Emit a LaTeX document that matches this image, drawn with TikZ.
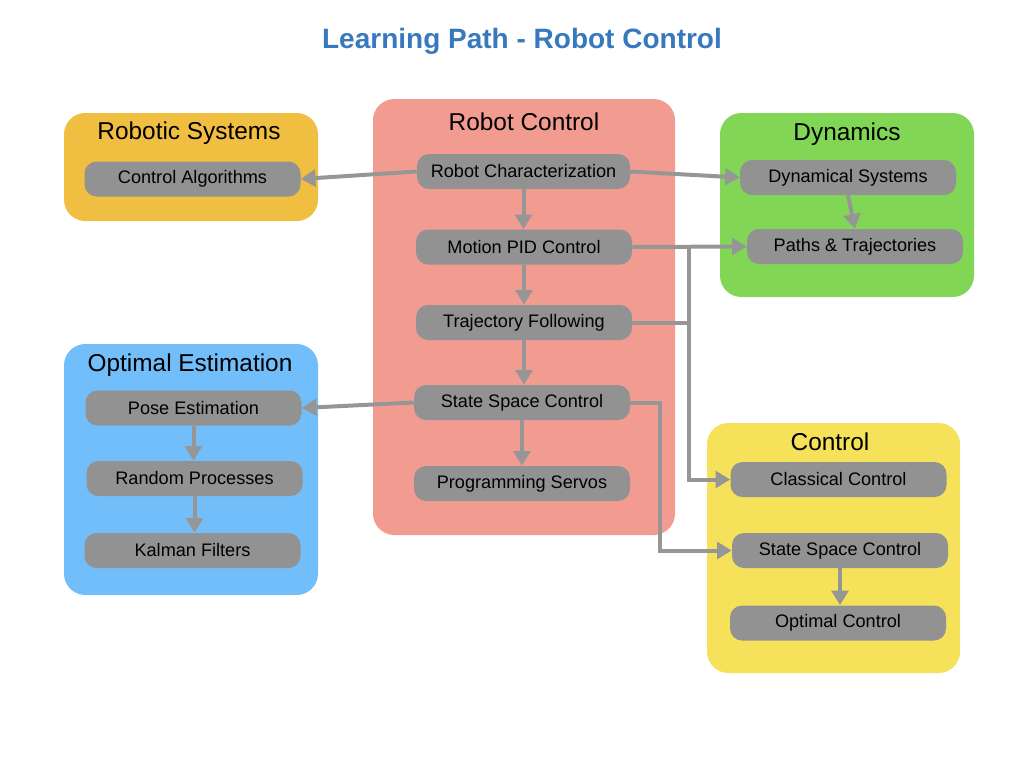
\documentclass[tikz,border=0pt]{standalone}
\usepackage{fontspec}
\setmainfont{Liberation Sans}
\usepackage{tikz}
\usetikzlibrary{arrows.meta,positioning,calc}
\definecolor{titleblue}{RGB}{55,120,190}
\definecolor{sysorange}{RGB}{240,190,65}
\definecolor{ctlsalmon}{RGB}{242,156,145}
\definecolor{dyngreen}{RGB}{130,214,85}
\definecolor{estblue}{RGB}{113,190,250}
\definecolor{ctlyellow}{RGB}{246,225,90}
\definecolor{topicgray}{RGB}{146,146,146}
\definecolor{linkgray}{RGB}{150,150,150}
\tikzset{
  % group panels
  group/.style={
    fill=#1,
    rounded corners=16pt,
    inner sep=0pt,
    minimum width=190.5pt
  },
  grouptitle/.style={font=\fontsize{18.3}{22}\selectfont, text=black},
  % topic boxes
  topic/.style={
    fill=topicgray,
    rounded corners=9pt,
    inner sep=0pt,
    minimum width=162pt,
    minimum height=26.25pt,
    font=\fontsize{13.6}{16}\selectfont
  },
  % connectors
  link/.style={line width=3pt, linkgray},
  arr/.style={link, -{Triangle[length=11pt, width=12.5pt]}},
}
\begin{document}
\begin{tikzpicture}[x=0.75pt, y=-0.75pt]
    \useasboundingbox (0,0) rectangle (1024,768);

    % Title
    \node[font=\fontsize{21}{25}\selectfont\bfseries, text=titleblue] (title) at (522,41) {Learning Path - Robot Control};

    % Group panels
    \node[group=sysorange, minimum height=81pt] (robsys) at (191,167) {};
    \node[group=ctlsalmon, minimum width=226.5pt, minimum height=327pt] (robctl) at (524,317) {};
    \node[group=estblue, minimum height=188.25pt] (optest) at (191,469.5) {};
    \node[group=dyngreen, minimum height=138pt] (dyn) at (847,205) {};
    \node[group=ctlyellow, minimum width=189.75pt, minimum height=187.5pt] (ctl) at (833.5,548) {};

    \node[grouptitle] (robsysT) at (189,133) {Robotic Systems};
    \node[grouptitle] (robctlT) at (524,122) {Robot Control};
    \node[grouptitle] (optestT) at (190,365) {Optimal Estimation};
    \node[grouptitle] (dynT) at (847,134) {Dynamics};
    \node[grouptitle] (ctlT) at (830,442) {Control};

    % Topics
    \node[topic] (ctrlalg) at (192.5,179) {Control Algorithms};

    \node[topic, minimum width=159.75pt] (charac) at (523.5,171.5) {Robot Characterization};
    \node[topic] (pid) at (524,247) {Motion PID Control};
    \node[topic] (traj) at (524,322.5) {Trajectory Following};
    \node[topic] (ssc) at (522,402.5) {State Space Control};
    \node[topic] (servo) at (522,483.5) {Programming Servos};

    \node[topic] (pose) at (193.5,408) {Pose Estimation};
    \node[topic] (random) at (194.5,478.5) {Random Processes};
    \node[topic] (kalman) at (192.5,550.5) {Kalman Filters};

    \node[topic] (dynsys) at (848,177.5) {Dynamical Systems};
    \node[topic] (paths) at (855,246.5) {Paths \& Trajectories};

    \node[topic] (classic) at (838.5,479.5) {Classical Control};
    \node[topic] (ssc2) at (840,550.5) {State Space Control};
    \node[topic] (optimal) at (838,623) {Optimal Control};

    % Chains inside the groups
    \foreach \a/\b in {charac/pid, pid/traj, traj/ssc, ssc/servo,
                       pose/random, random/kalman, ssc2/optimal} {
        \draw[arr] (\a.south) -- (\a.south |- \b.north);
    }
    \draw[arr] (dynsys.south) -- (paths.north);

    % Links between the groups
    \draw[arr] (charac.west) -- (ctrlalg.east);
    \draw[arr] (charac.east) -- (dynsys.west);
    \draw[arr] (ssc.west) -- (pose.east);
    \draw[arr] (pid.east) -- (paths.west);

    \coordinate (split) at (689,247);
    \draw[arr] (split) |- (classic.west);
    \draw[link] (traj.east) -- (traj.east -| split);

    \coordinate (bend) at (660,402.5);
    \draw[arr] (ssc.east) -- (bend) |- (ssc2.west);
\end{tikzpicture}
\end{document}
